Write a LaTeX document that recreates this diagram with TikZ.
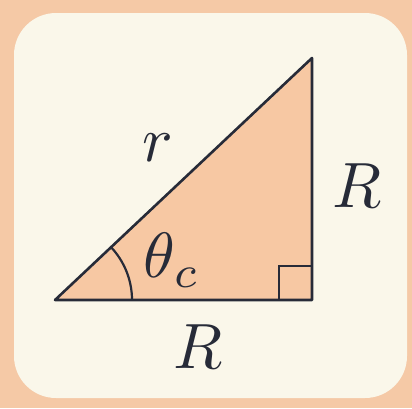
\documentclass[tikz,border=0pt]{standalone}
\definecolor{peach}{HTML}{F5C9A6}
\definecolor{cream}{HTML}{FAF7EA}
\definecolor{trifill}{HTML}{F7C8A3}
\definecolor{ink}{HTML}{272B38}
\tikzset{
  edge/.style={draw=ink, line width=2.6pt, line join=round, line cap=round},
  thin edge/.style={draw=ink, line width=2.2pt},
  lbl/.style={text=ink, inner sep=0pt, scale=6.4}
}
\begin{document}
\begin{tikzpicture}[x=1pt,y=-1pt]
\useasboundingbox (0,0) rectangle (412,408);
\fill[peach] (0,0) rectangle (412,408);
\fill[cream, rounded corners=42pt] (14,13) rectangle (407,398);
\coordinate (A) at (55,300);
\coordinate (B) at (312,300);
\coordinate (C) at (312,58);
\fill[trifill] (A) -- (B) -- (C) -- cycle;
\draw[thin edge] (279,300) -- (279,266) -- (312,266);
\draw[thin edge] (132,300) arc[start angle=0, end angle=-43.3, radius=77];
\draw[edge] (A) -- (B) -- (C) -- cycle;
\node[lbl] (r) at (158,148) {$r$};
\node[lbl] (R1) at (357,186) {$R$};
\node[lbl] (R2) at (198,347) {$R$};
\node[lbl] (th) at (172,260) {$\theta_c$};
\end{tikzpicture}
\end{document}
